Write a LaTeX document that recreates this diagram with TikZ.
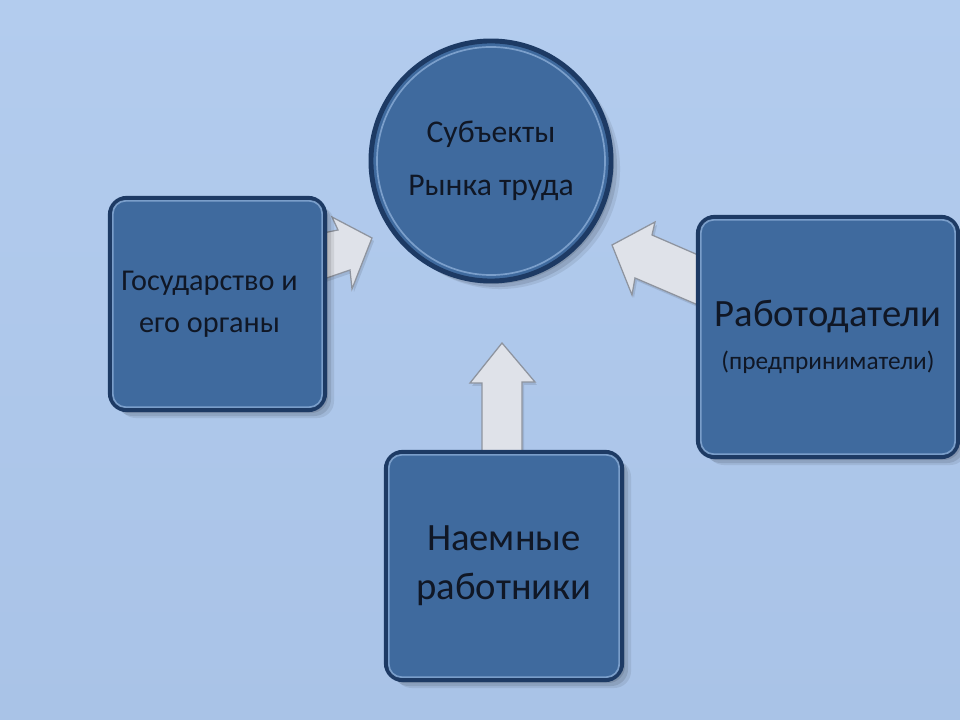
\documentclass[tikz,border=0pt]{standalone}
\usepackage{fontspec}
\setmainfont{Carlito}
\usetikzlibrary{backgrounds,calc}
\definecolor{bgtop}{HTML}{B3CCEE}
\definecolor{bgbot}{HTML}{A9C3E7}
\definecolor{boxc}{HTML}{3F6A9E}
\definecolor{edgec}{HTML}{1D3A64}
\definecolor{hic}{HTML}{8AADD7}
\definecolor{txtc}{HTML}{101725}
\definecolor{arrc}{HTML}{DFE2E9}
\definecolor{arre}{HTML}{8E949F}
\tikzset{
  softshadow/.style={
    preaction={fill=black, opacity=0.10, transform canvas={shift={(3,3)}}},
    preaction={fill=black, opacity=0.10, transform canvas={shift={(6,6)}}},
    preaction={fill=black, opacity=0.08, transform canvas={shift={(9,8)}}}},
  panel/.style={rectangle, rounded corners=12pt, draw=edgec, line width=3pt,
    fill=boxc, text=txtc, align=center, inner sep=0pt, softshadow},
  hub/.style={circle, draw=edgec, line width=3.5pt, fill=boxc, text=txtc,
    align=center, minimum size=6cm, inner sep=0pt, softshadow},
  inner/.style={draw=hic, line width=1.2pt, opacity=0.8},
  blockarrow/.style={fill=arrc, draw=arre, line width=0.9pt, line join=miter,
    preaction={fill=black, opacity=0.10, transform canvas={shift={(2,3)}}}},
}
\begin{document}
\begin{tikzpicture}[x=0.025cm, y=-0.025cm]
\useasboundingbox (0,0) rectangle (960,720);

\node[hub, font=\fontsize{22.5}{37.5}\selectfont] (hubc) at (491,161)
  {Субъекты\\Рынка труда};

\node[panel, minimum width=5.375cm, minimum height=5.3cm,
  font=\fontsize{21.5}{30}\selectfont] (gov) at (217.5,304)
  {\hspace*{-0.4cm}Государство и\\\hspace*{-0.4cm}его органы};

\node[panel, minimum width=6.5cm, minimum height=6cm,
  font=\fontsize{27.5}{29}\selectfont] (emp) at (828,337)
  {Работодатели\\[1pt]\fontsize{18}{22}\selectfont (предприниматели)};

\node[panel, minimum width=5.9cm, minimum height=5.7cm,
  font=\fontsize{27.5}{35}\selectfont] (work) at (504,566)
  {\rule{0pt}{0.25cm}Наемные\\работники};

\draw[inner, rounded corners=9pt] ($(gov.north west)+(5,5)$) rectangle ($(gov.south east)+(-5,-5)$);
\draw[inner, rounded corners=9pt] ($(emp.north west)+(5,5)$) rectangle ($(emp.south east)+(-5,-5)$);
\draw[inner, rounded corners=9pt] ($(work.north west)+(5,5)$) rectangle ($(work.south east)+(-5,-5)$);
\draw[inner] (hubc.center) circle[radius=2.85cm];

\begin{scope}[on background layer]
  \shade[top color=bgtop, bottom color=bgbot] (0,0) rectangle (960,720);
  % arrow from the state to the hub
  \draw[blockarrow] (318,234) -- (338,230) -- (332,217) -- (372,238)
    -- (352,289) -- (350,270) -- (318,281) -- cycle;
  % arrow from employers to the hub
  \draw[blockarrow] (612,245) -- (655,222) -- (652,235) -- (705,258)
    -- (705,308) -- (635,278) -- (632,295) -- cycle;
  % arrow from workers to the hub
  \draw[blockarrow] (502,343) -- (535,382) -- (522,382) -- (522,460)
    -- (482,460) -- (482,383) -- (470,383) -- cycle;
\end{scope}
\end{tikzpicture}
\end{document}
